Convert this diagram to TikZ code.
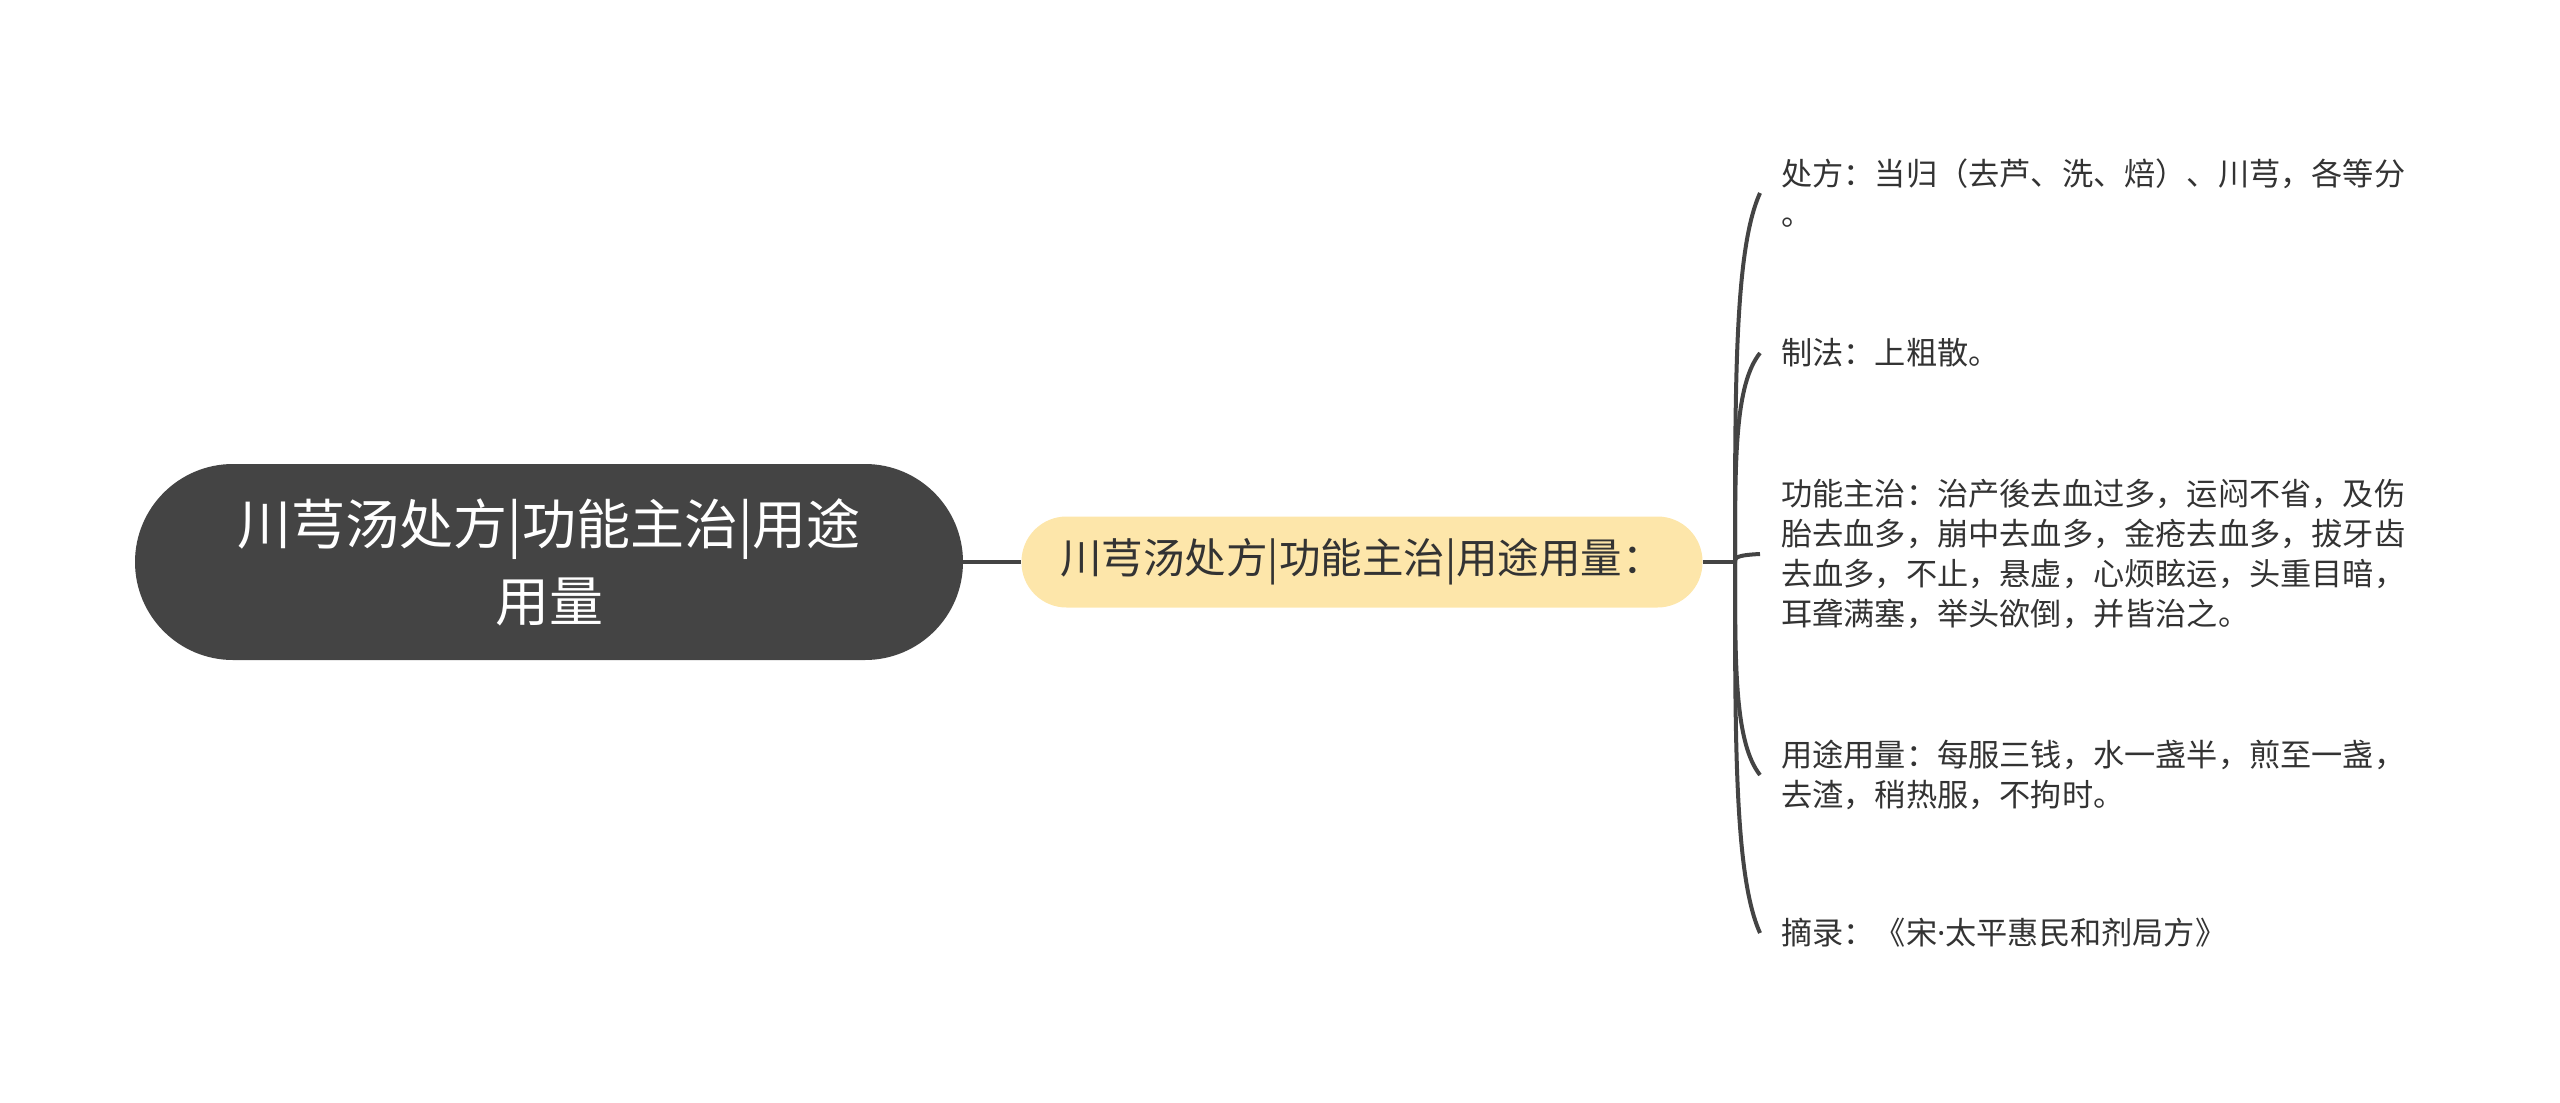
\documentclass[tikz,border=0pt]{standalone}
\usepackage{fontspec}
\newfontfamily\cjk{Noto Sans CJK SC}
\newfontfamily\latn{Noto Sans}
\usetikzlibrary{calc}
\definecolor{rootc}{HTML}{444444}
\definecolor{midc}{HTML}{FDE6AA}
\definecolor{txtc}{HTML}{333333}
\definecolor{linec}{HTML}{444444}
\begin{document}
\begin{tikzpicture}[x=1pt,y=-1pt,
 rootbox/.style={fill=rootc, draw=none, rounded corners=98pt, minimum width=828pt, minimum height=196pt, text=white, font=\cjk\fontsize{54}{77}\selectfont, align=center, inner sep=0pt},
 midbox/.style={fill=midc, draw=none, rounded corners=45pt, minimum width=681pt, minimum height=91pt, text=txtc, font=\cjk\fontsize{41.5}{48}\selectfont, inner sep=0pt},
 leaf/.style={anchor=west, inner xsep=21pt, inner ysep=0pt, text=txtc, font=\cjk\fontsize{31.2}{40}\selectfont, align=left},
 conn/.style={draw=linec, line width=4pt}]
\useasboundingbox (0,0) rectangle (2560,1103);
\node[rootbox] (root) at (549,562) {川芎汤处方|功能主治|用途\\用量};
\node[midbox] (mid) at (1362,562) {川芎汤处方|功能主治|用途用量：};
\coordinate (J) at (1735,562);
\node[leaf] (c1) at (1760,193) {处方：当归（去芦、洗、焙）、川芎，各等分\\。};
\node[leaf] (c2) at (1760,353) {制法：上粗散。};
\node[leaf] (c3) at (1760,554) {功能主治：治产後去血过多，运闷不省，及伤\\胎去血多，崩中去血多，金疮去血多，拔牙齿\\去血多，不止，悬虚，心烦眩运，头重目暗，\\耳聋满塞，举头欲倒，并皆治之。};
\node[leaf] (c4) at (1760,775) {用途用量：每服三钱，水一盏半，煎至一盏，\\去渣，稍热服，不拘时。};
\node[leaf] (c5) at (1760,933) {摘录：《宋{\latn ·}太平惠民和剂局方》};
\draw[conn] (root.east) -- (mid.west);
\draw[conn] (mid.east) -- (J);
\foreach \c in {c1,c2,c3,c4,c5}{
  \draw[conn] (J) .. controls ($(J)!0.5!(J|-\c.west)$) and ($(J|-\c.west)!0.15!(J)$) .. (\c.west);
}
\end{tikzpicture}
\end{document}
